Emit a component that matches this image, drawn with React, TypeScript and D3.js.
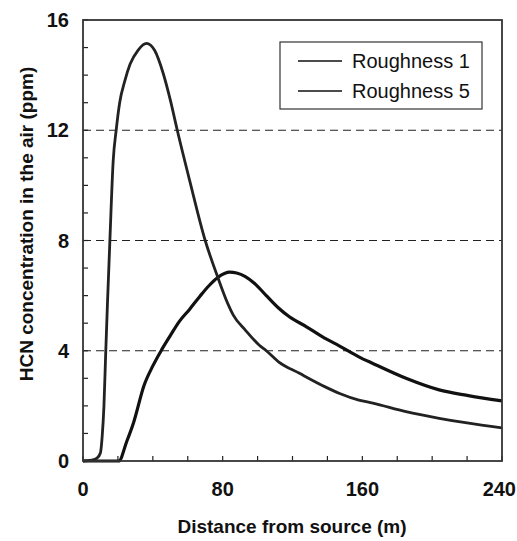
import React from "react";
import * as d3 from "d3";

const r1X = [0, 5, 8, 10, 11, 12, 13, 14, 15.4, 17.3, 19, 21, 24, 27, 31.5, 36.4, 41, 46, 50, 54, 61, 70, 77, 83, 86, 93, 101, 105, 112, 124, 139, 147, 158, 166, 185, 204, 220, 240];
const r1Y = [0, 0.03, 0.1, 0.3, 0.9, 2.0, 3.9, 5.7, 8, 10.9, 12, 13, 13.8, 14.4, 14.9, 15.15, 14.9, 14.05, 13.1, 12, 10.2, 8, 6.7, 5.7, 5.3, 4.75, 4.2, 4.0, 3.6, 3.18, 2.68, 2.45, 2.21, 2.1, 1.79, 1.55, 1.38, 1.2];

const r5X = [0, 20.5, 25, 29, 35, 40, 45, 50, 55, 61, 67, 72, 77, 81, 84, 88, 93, 99, 105, 112, 118, 128, 137, 147, 158, 166, 185, 204, 220, 240];
const r5Y = [0, 0, 0.7, 1.4, 2.75, 3.45, 4.03, 4.55, 5.05, 5.5, 5.98, 6.35, 6.65, 6.8, 6.85, 6.82, 6.69, 6.4, 6.0, 5.55, 5.24, 4.87, 4.51, 4.17, 3.78, 3.54, 3.0, 2.58, 2.38, 2.18];

const xTickLabels = [0, 80, 160, 240];
const yTickLabels = [0, 4, 8, 12, 16];
const gridValues = [4, 8, 12];
const seriesNames = ["Roughness 1", "Roughness 5"];

export default function App() {
  const W = 517, H = 541;
  const left = 83, right = 502, top = 20, bottom = 461;
  const x = d3.scaleLinear().domain([0, 240]).range([left, right]);
  const y = d3.scaleLinear().domain([0, 16]).range([bottom, top]);
  const line = d3
    .line<[number, number]>()
    .x((d) => x(d[0]))
    .y((d) => y(d[1]))
    .curve(d3.curveMonotoneX);
  const s1 = r1X.map((v, i) => [v, r1Y[i]] as [number, number]);
  const s5 = r5X.map((v, i) => [v, r5Y[i]] as [number, number]);
  const xMinor = d3.range(0, 241, 20);
  const yMinor = d3.range(0, 17, 1);
  const font = "'Liberation Sans', Arial, sans-serif";
  return (
    <svg width={W} height={H} style={{ position: "absolute", left: 0, top: 0 }} fontFamily={font}>
      <rect width={W} height={H} fill="#fff" />
      {gridValues.map((g) => (
        <line key={g} x1={left} x2={right} y1={y(g)} y2={y(g)} stroke="#222" strokeWidth={1.2} strokeDasharray="8,5" />
      ))}
      {xMinor.map((t) => (
        <line key={"xt" + t} x1={x(t)} x2={x(t)} y1={bottom} y2={bottom - 5} stroke="#222" strokeWidth={1.2} />
      ))}
      {yMinor.map((t) => (
        <line key={"yt" + t} x1={left} x2={left + 5} y1={y(t)} y2={y(t)} stroke="#222" strokeWidth={1.2} />
      ))}
      <path d={line(s5) || ""} fill="none" stroke="#111" strokeWidth={3.2} strokeLinejoin="round" />
      <path d={line(s1) || ""} fill="none" stroke="#222" strokeWidth={2.8} strokeLinejoin="round" />
      <rect x={left} y={top} width={right - left} height={bottom - top} fill="none" stroke="#333" strokeWidth={1.8} />
      {xTickLabels.map((t) => (
        <text
          key={"xl" + t}
          x={t === 240 ? W - 1 : x(t)}
          y={bottom + 35}
          textAnchor={t === 240 ? "end" : "middle"}
          fontSize={20}
          fontWeight="bold"
          fill="#111"
        >
          {t}
        </text>
      ))}
      {yTickLabels.map((t) => (
        <text key={"yl" + t} x={left - 14} y={y(t) + 7} textAnchor="end" fontSize={20} fontWeight="bold" fill="#111">
          {t}
        </text>
      ))}
      <text x={292} y={533} textAnchor="middle" fontSize={19} fontWeight="bold" fill="#111">
        Distance from source (m)
      </text>
      <text transform={`translate(33,224) rotate(-90)`} textAnchor="middle" fontSize={19} fontWeight="bold" fill="#111">
        HCN concentration in the air (ppm)
      </text>
      <rect x={280} y={42} width={202} height={67} fill="#fff" stroke="#333" strokeWidth={1.2} />
      {seriesNames.map((n, i) => (
        <g key={n}>
          <line x1={298} x2={342} y1={61 + i * 30} y2={61 + i * 30} stroke="#111" strokeWidth={1.6} />
          <text x={352} y={67.5 + i * 30} fontSize={20} fill="#111">
            {n}
          </text>
        </g>
      ))}
    </svg>
  );
}
